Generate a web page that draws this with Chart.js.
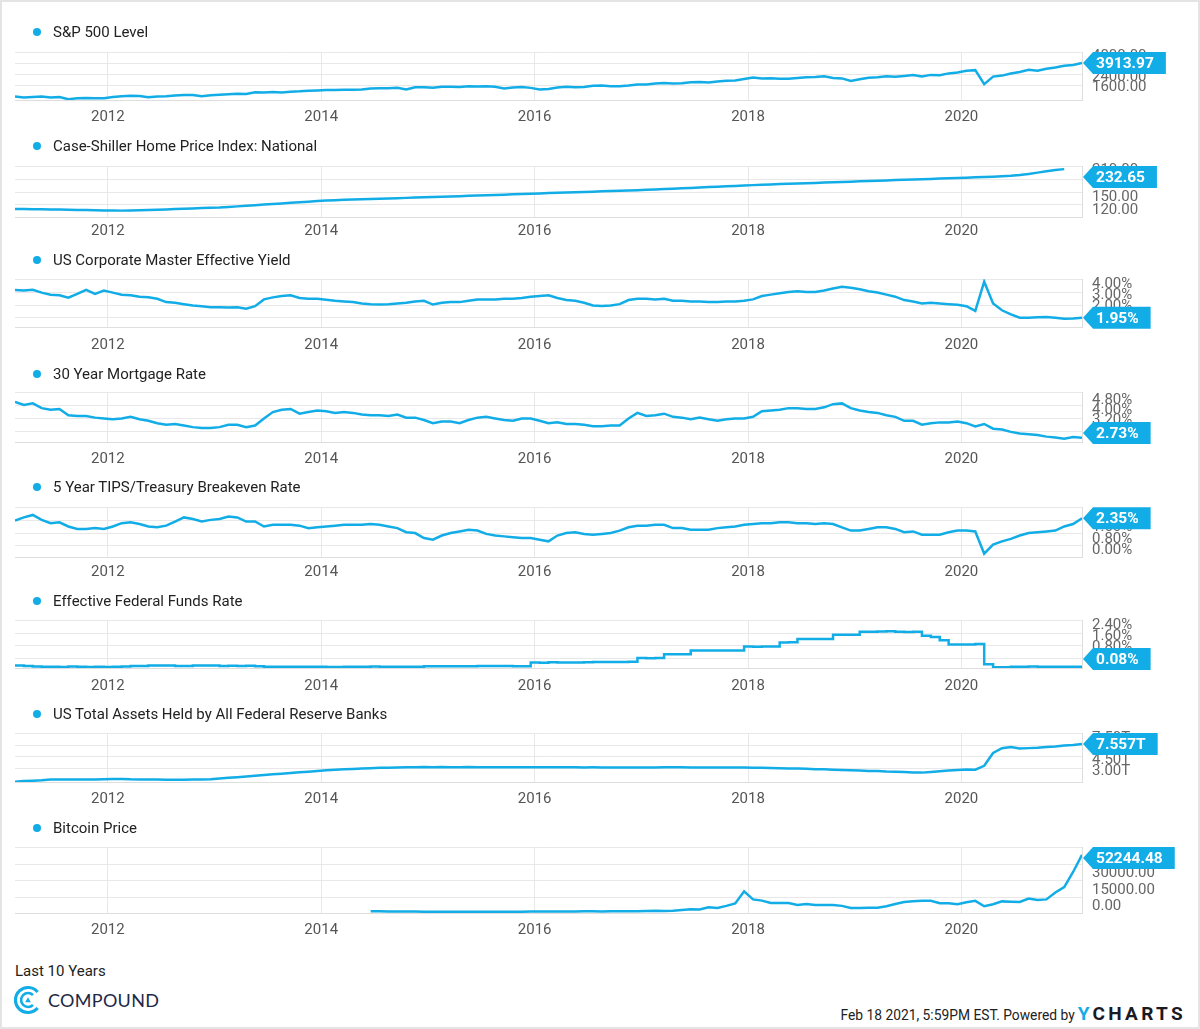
<!DOCTYPE html>
<html lang="en">
<head>
  <meta charset="UTF-8" />
  <title>Last 10 Years - Compound</title>
  <script src="https://cdn.jsdelivr.net/npm/chart.js@4.4.1/dist/chart.umd.min.js"></script>
  <style>
    html, body { margin: 0; padding: 0; background: #fff; }
    body { position: relative; width: 1200px; height: 1029px; overflow: hidden; font-family: Roboto, "Noto Sans", sans-serif; }
    .frame { position: absolute; left: 0; top: 0; width: 1200px; height: 1029px; box-sizing: border-box; border: 2px solid #e4e4e4; pointer-events: none; }
    .legend { position: absolute; left: 33px; height: 20px; line-height: 20px; font-size: 15px; color: #222; white-space: nowrap; }
    .legend .dot { display: inline-block; width: 8px; height: 8px; border-radius: 50%; background: #12ade6; margin-right: 12px; vertical-align: 1px; }
    canvas.panel { position: absolute; left: 0; }
    .period { position: absolute; left: 15px; top: 962px; font-size: 15px; color: #222; }
    .logo { position: absolute; left: 13px; top: 985px; }
    .brand { position: absolute; left: 48px; top: 989px; font-family: Lato, "Open Sans", sans-serif; font-size: 18px; letter-spacing: 0.3px; color: #1d2847; }
    .stamp { position: absolute; right: 14px; top: 1002px; font-size: 13.8px; color: #222; white-space: nowrap; }
    .stamp b { font-size: 19px; letter-spacing: 3.3px; color: #1a1a24; margin-left: 3px; }
    .stamp b span { color: #12ade6; }
  </style>
</head>
<body>
  <div class="period">Last 10 Years</div>
  <svg class="logo" width="30" height="30" viewBox="0 0 30 30">
    <path d="M24.6 23 A12.5 12.5 0 1 1 24.6 7" fill="none" stroke="#12ade6" stroke-width="3.2" />
    <path d="M20 20 A7 7 0 1 1 20 10" fill="none" stroke="#12ade6" stroke-width="2.6" />
    <path d="M15 12.3 L17.8 17.2 L12.2 17.2 Z" fill="#12ade6" />
  </svg>
  <div class="brand">COMPOUND</div>
  <div class="stamp">Feb 18 2021, 5:59PM EST. Powered by<b><span>Y</span>CHARTS</b></div>
  <div class="frame"></div>

  <script>
    // monthly points, 18th of each month, Feb 2011 .. Feb 2021
    const months = [];
    for (let i = 0; i <= 120; i++) months.push(2011 + (1.56 + i) / 12);

    const yearTicks = [2012, 2014, 2016, 2018, 2020];

    const spx = [
      1340, 1280, 1305, 1340, 1270, 1305, 1140, 1215, 1225, 1215, 1220,
      1310, 1360, 1405, 1385, 1295, 1345, 1370, 1418, 1460, 1455, 1360, 1445,
      1485, 1520, 1550, 1545, 1665, 1650, 1690, 1655, 1720, 1745, 1790, 1810,
      1840, 1840, 1870, 1865, 1880, 1955, 1980, 1980, 2010, 1885, 2050, 2060,
      2020, 2100, 2100, 2080, 2130, 2120, 2125, 2095, 1960, 2030, 2085, 2010,
      1880, 1920, 2045, 2095, 2050, 2070, 2165, 2185, 2140, 2140, 2185, 2260,
      2270, 2350, 2380, 2340, 2365, 2435, 2460, 2425, 2505, 2560, 2580, 2690,
      2800, 2730, 2750, 2710, 2715, 2775, 2815, 2850, 2905, 2770, 2735, 2545,
      2670, 2780, 2830, 2905, 2860, 2925, 2995, 2890, 3005, 2985, 3120, 3190,
      3330, 3370, 2300, 2875, 2950, 3115, 3225, 3390, 3320, 3480, 3570, 3710,
      3770, 3913.97
    ];
    const spxTicks = [1600, 2400, 3200, 4000];

    // Case-Shiller ends Dec 2020
    const homePrice = [
      139.0, 138.6, 138.3, 138.0, 137.7, 137.4, 137.0, 136.6, 136.2, 135.8, 135.5,
      135.2, 135.0, 135.2, 135.8, 136.5, 137.2, 137.9, 138.6, 139.4, 140.2, 141.0, 141.8,
      142.5, 143.7, 145.0, 146.4, 147.8, 149.2, 150.6, 152.0, 153.4, 154.8, 156.1, 157.5,
      159.0, 159.6, 160.3, 161.0, 161.7, 162.3, 163.0, 163.6, 164.3, 165.0, 165.7, 166.3,
      167.0, 167.7, 168.4, 169.1, 169.8, 170.5, 171.2, 171.9, 172.6, 173.3, 174.0, 174.7,
      175.5, 176.2, 176.9, 177.6, 178.3, 179.0, 179.7, 180.4, 181.1, 181.8, 182.5, 183.2,
      184.0, 184.9, 185.8, 186.7, 187.6, 188.5, 189.4, 190.4, 191.3, 192.2, 193.1, 194.0,
      195.0, 195.8, 196.6, 197.4, 198.1, 198.8, 199.5, 200.2, 200.9, 201.7, 202.5, 203.2,
      204.0, 204.7, 205.4, 206.1, 206.8, 207.5, 208.2, 208.9, 209.6, 210.3, 211.0, 211.8,
      212.5, 213.3, 214.1, 214.9, 215.7, 216.8, 218.6, 221.3, 224.4, 227.8, 230.8, 232.65
    ];
    const homeTicks = [120, 150, 180, 210];

    const corpYield = [
      4.0, 3.95, 4.0, 3.8, 3.65, 3.6, 3.42, 3.7, 4.0, 3.7, 3.95,
      3.8, 3.65, 3.6, 3.5, 3.45, 3.35, 3.1, 3.05, 2.95, 2.85, 2.8, 2.72,
      2.72, 2.7, 2.72, 2.62, 2.8, 3.3, 3.45, 3.55, 3.6, 3.4, 3.35, 3.35,
      3.27, 3.2, 3.15, 3.1, 3.0, 2.95, 2.92, 2.95, 3.0, 3.05, 3.15, 3.2,
      2.92, 3.05, 3.1, 3.1, 3.2, 3.3, 3.3, 3.3, 3.35, 3.35, 3.4, 3.5,
      3.55, 3.6, 3.4, 3.25, 3.2, 3.05, 2.85, 2.82, 2.85, 2.95, 3.25, 3.35,
      3.35, 3.3, 3.35, 3.2, 3.2, 3.15, 3.15, 3.1, 3.1, 3.15, 3.15, 3.2,
      3.3, 3.55, 3.65, 3.75, 3.85, 3.9, 3.85, 3.85, 3.95, 4.1, 4.23, 4.15,
      4.05, 3.9, 3.8, 3.65, 3.5, 3.25, 3.15, 3.0, 3.05, 3.0, 2.95, 2.9,
      2.8, 2.45, 4.6, 3.0, 2.5, 2.2, 1.95, 1.95, 1.98, 2.0, 1.95, 1.88,
      1.9, 1.95
    ];
    const corpTicks = [2, 3, 4];

    const mortgage = [
      5.0, 4.8, 4.9, 4.6, 4.5, 4.55, 4.15, 4.1, 4.1, 4.0, 3.95,
      3.9, 3.95, 4.05, 3.9, 3.8, 3.65, 3.55, 3.6, 3.5, 3.4, 3.35, 3.35,
      3.4, 3.55, 3.55, 3.4, 3.5, 3.95, 4.35, 4.5, 4.55, 4.25, 4.35, 4.45,
      4.4, 4.3, 4.35, 4.3, 4.2, 4.15, 4.15, 4.1, 4.2, 4.0, 4.0, 3.85,
      3.65, 3.75, 3.75, 3.65, 3.85, 4.0, 4.05, 3.95, 3.85, 3.8, 3.95, 3.95,
      3.8, 3.65, 3.7, 3.6, 3.6, 3.55, 3.45, 3.45, 3.5, 3.5, 3.95, 4.3,
      4.1, 4.15, 4.25, 4.05, 4.0, 3.9, 4.0, 3.9, 3.8, 3.9, 3.95, 3.95,
      4.05, 4.4, 4.45, 4.5, 4.6, 4.6, 4.55, 4.55, 4.65, 4.85, 4.9, 4.6,
      4.45, 4.35, 4.3, 4.15, 4.05, 3.8, 3.8, 3.55, 3.65, 3.7, 3.7, 3.75,
      3.65, 3.45, 3.6, 3.3, 3.25, 3.1, 3.0, 2.95, 2.9, 2.8, 2.75, 2.67,
      2.77, 2.73
    ];
    const mortgageTicks = [3.2, 4.0, 4.8];

    const breakeven = [
      2.2, 2.4, 2.55, 2.25, 2.05, 2.1, 1.85, 1.7, 1.7, 1.75, 1.7,
      1.85, 2.05, 2.1, 2.0, 1.85, 1.8, 1.9, 2.15, 2.4, 2.3, 2.15, 2.25,
      2.3, 2.45, 2.4, 2.15, 2.15, 1.85, 1.95, 1.95, 1.95, 1.9, 1.75, 1.8,
      1.85, 1.9, 1.95, 1.95, 1.95, 2.0, 1.95, 1.85, 1.75, 1.5, 1.45, 1.15,
      1.05, 1.3, 1.45, 1.55, 1.65, 1.6, 1.4, 1.3, 1.25, 1.2, 1.15, 1.15,
      1.05, 0.95, 1.3, 1.45, 1.5, 1.4, 1.35, 1.4, 1.45, 1.6, 1.8, 1.9,
      1.9, 1.95, 1.95, 1.75, 1.75, 1.65, 1.65, 1.65, 1.75, 1.8, 1.85, 1.95,
      2.0, 2.05, 2.05, 2.1, 2.1, 2.05, 2.05, 2.0, 2.05, 2.0, 1.8, 1.6,
      1.6, 1.7, 1.8, 1.8, 1.7, 1.5, 1.55, 1.35, 1.35, 1.35, 1.5, 1.6,
      1.6, 1.55, 0.2, 0.75, 0.95, 1.1, 1.3, 1.45, 1.5, 1.55, 1.6, 1.85,
      2.0, 2.35
    ];
    const breakevenTicks = [0, 0.8, 1.6, 2.4];

    const fedFunds = [
      0.16, 0.14, 0.10, 0.09, 0.09, 0.07, 0.10, 0.08, 0.07, 0.08, 0.07,
      0.08, 0.10, 0.13, 0.14, 0.16, 0.16, 0.16, 0.13, 0.14, 0.16, 0.16, 0.16,
      0.14, 0.15, 0.14, 0.15, 0.11, 0.09, 0.09, 0.08, 0.08, 0.09, 0.08, 0.09,
      0.07, 0.07, 0.08, 0.09, 0.09, 0.10, 0.09, 0.09, 0.09, 0.09, 0.09, 0.12,
      0.11, 0.11, 0.11, 0.12, 0.12, 0.13, 0.13, 0.14, 0.14, 0.12, 0.12, 0.36,
      0.34, 0.38, 0.36, 0.37, 0.37, 0.38, 0.39, 0.40, 0.40, 0.40, 0.41, 0.66,
      0.65, 0.66, 0.91, 0.90, 0.91, 1.16, 1.15, 1.16, 1.15, 1.15, 1.16, 1.42,
      1.41, 1.42, 1.42, 1.69, 1.70, 1.91, 1.91, 1.91, 1.92, 2.19, 2.20, 2.20,
      2.40, 2.40, 2.41, 2.42, 2.39, 2.38, 2.40, 2.13, 2.04, 1.83, 1.55, 1.55,
      1.55, 1.58, 0.25, 0.05, 0.05, 0.08, 0.09, 0.10, 0.09, 0.09, 0.09, 0.09,
      0.09, 0.08
    ];
    const fedFundsTicks = [0, 0.8, 1.6, 2.4];

    // trillions of USD
    const fedAssets = [
      2.55, 2.65, 2.70, 2.76, 2.85, 2.87, 2.87, 2.86, 2.87, 2.85, 2.90,
      2.93, 2.93, 2.88, 2.86, 2.85, 2.87, 2.83, 2.82, 2.82, 2.85, 2.85, 2.90,
      3.00, 3.08, 3.17, 3.25, 3.35, 3.45, 3.54, 3.62, 3.71, 3.82, 3.90, 4.00,
      4.07, 4.14, 4.20, 4.26, 4.31, 4.36, 4.40, 4.42, 4.45, 4.47, 4.48, 4.50,
      4.49, 4.50, 4.48, 4.48, 4.50, 4.49, 4.49, 4.49, 4.48, 4.48, 4.49, 4.49,
      4.49, 4.49, 4.49, 4.49, 4.47, 4.46, 4.47, 4.46, 4.45, 4.45, 4.45, 4.45,
      4.45, 4.46, 4.47, 4.47, 4.47, 4.46, 4.46, 4.46, 4.46, 4.45, 4.44, 4.44,
      4.42, 4.41, 4.39, 4.35, 4.33, 4.30, 4.27, 4.22, 4.20, 4.15, 4.11, 4.08,
      4.05, 4.00, 3.97, 3.92, 3.90, 3.85, 3.80, 3.77, 3.86, 3.95, 4.06, 4.13,
      4.17, 4.16, 4.67, 6.37, 7.00, 7.17, 6.95, 7.01, 7.06, 7.17, 7.24, 7.36,
      7.41, 7.557
    ];
    const fedAssetsTicks = [3, 4.5, 6, 7.5];

    // starts Jun 2014 (month index 40)
    const bitcoinStart = 40;
    const bitcoin = [
      600, 620, 490, 400, 385, 380, 320,
      210, 240, 260, 225, 235, 250, 280, 230, 230, 265, 330, 460,
      380, 420, 415, 430, 450, 750, 670, 575, 610, 635, 740, 790,
      900, 1050, 1000, 1200, 1800, 2500, 2250, 4300, 3600, 5600, 7800, 18900,
      11500, 10400, 8200, 8200, 8200, 6500, 7400, 6300, 6350, 6500, 5600, 3600,
      3650, 3900, 4000, 5250, 7300, 9100, 9800, 10300, 10200, 7950, 8000, 7100,
      8900, 10200, 5300, 7100, 9700, 9400, 9150, 12300, 10900, 11500, 17800, 22800,
      36500, 52244.48
    ];
    const bitcoinTicks = [0, 15000, 30000, 45000];

    const CYAN = '#12ade6';
    const num = v => v.toFixed(2);
    const pct = v => v.toFixed(2) + '%';

    const panels = [
      { title: 'S&P 500 Level', values: spx, from: 0, ticks: spxTicks, fmt: num, last: num,
        top: 52, h: 48, legendY: 32, labelY: 117, min: 1080, max: 4760, lmin: 636, lmax: 4368, grid: [0, 11, 22, 33] },
      { title: 'Case-Shiller Home Price Index: National', values: homePrice, from: 0, ticks: homeTicks, fmt: num, last: num,
        top: 166, h: 51, legendY: 146, labelY: 231, min: 120, max: 240, lmin: 104.9, lmax: 219.9, grid: [0, 13, 26, 38] },
      { title: 'US Corporate Master Effective Yield', values: corpYield, from: 0, ticks: corpTicks, fmt: pct, last: pct,
        top: 279, h: 48, legendY: 260, labelY: 345, min: 1.27, max: 4.8, lmin: 0.1, lmax: 4.53, grid: [0, 13, 26, 38] },
      { title: '30 Year Mortgage Rate', values: mortgage, from: 0, ticks: mortgageTicks, fmt: pct, last: pct,
        top: 392, h: 50, legendY: 374, labelY: 459, min: 2.46, max: 5.62, lmin: 1.42, lmax: 5.42, grid: [0, 13, 26, 39] },
      { title: '5 Year TIPS/Treasury Breakeven Rate', values: breakeven, from: 0, ticks: breakevenTicks, fmt: pct, last: pct,
        top: 507, h: 50, legendY: 487, labelY: 572, min: 0, max: 3.03, lmin: -0.45, lmax: 3.01, grid: [0, 13, 26, 38] },
      { title: 'Effective Federal Funds Rate', values: fedFunds, from: 0, ticks: fedFundsTicks, fmt: pct, last: pct, stepped: true,
        top: 620, h: 48, legendY: 601, labelY: 686, min: 0, max: 3.17, lmin: -0.75, lmax: 2.76, grid: [0, 13, 25, 38] },
      { title: 'US Total Assets Held by All Federal Reserve Banks', values: fedAssets, from: 0, ticks: fedAssetsTicks,
        fmt: v => v.toFixed(2) + 'T', last: v => v.toFixed(3) + 'T',
        top: 733, h: 49, legendY: 714, labelY: 799, min: 2.53, max: 9.01, lmin: 1.55, lmax: 8.24, grid: [0, 12, 23, 35] },
      { title: 'Bitcoin Price', values: bitcoin, from: bitcoinStart, ticks: bitcoinTicks, fmt: num, last: num,
        top: 847, h: 66, legendY: 828, labelY: 930, min: -900, max: 59300, lmin: -6055, lmax: 54495, grid: [0, 17, 33, 50] }
    ];

    Chart.defaults.font.family = 'Roboto, "Noto Sans", sans-serif';

    function calloutFor(p) {
      return {
        id: 'callout',
        afterDraw(chart) {
          const pts = chart.data.datasets[0].data;
          const last = pts[pts.length - 1];
          const a = chart.chartArea;
          const ctx = chart.ctx;
          const y = chart.scales.y.getPixelForValue(last.y);
          const cy = Math.min(Math.max(y, a.top + 11), a.bottom - 9);
          const text = p.last(last.y);
          ctx.save();
          ctx.font = 'bold 15.5px Roboto';
          const w = ctx.measureText(text).width + 15;
          const tip = a.right + 1, bx = tip + 10;
          ctx.fillStyle = CYAN;
          ctx.beginPath();
          ctx.moveTo(tip, cy);
          ctx.lineTo(bx, cy - 11);
          ctx.lineTo(bx + w, cy - 11);
          ctx.lineTo(bx + w, cy + 11);
          ctx.lineTo(bx, cy + 11);
          ctx.closePath();
          ctx.fill();
          ctx.fillStyle = '#fff';
          ctx.textAlign = 'left';
          ctx.textBaseline = 'middle';
          ctx.fillText(text, bx + 3, cy + 1);
          ctx.restore();
        }
      };
    }

    panels.forEach(p => {
      const leg = document.createElement('div');
      leg.className = 'legend';
      leg.style.top = (p.legendY - 10) + 'px';
      leg.innerHTML = '<span class="dot"></span>';
      leg.appendChild(document.createTextNode(p.title));
      document.body.appendChild(leg);

      // room above the plot: the right axis asks for about 19px for its top label
      const padTop = 24, xh = 34;
      const canvas = document.createElement('canvas');
      canvas.className = 'panel';
      canvas.width = 1200;
      canvas.height = padTop + p.h + xh;
      canvas.style.top = (p.top - padTop) + 'px';
      document.body.insertBefore(canvas, document.querySelector('.legend'));

      new Chart(canvas.getContext('2d'), {
        type: 'line',
        data: {
          datasets: [{
            data: p.values.map((v, i) => ({ x: months[p.from + i], y: v })),
            borderColor: CYAN,
            borderWidth: 2.5,
            pointRadius: 0,
            tension: 0,
            stepped: p.stepped || false,
            yAxisID: 'y'
          }]
        },
        options: {
          responsive: false,
          animation: false,
          layout: { padding: { left: 15, top: padTop, right: 0, bottom: 0 } },
          plugins: { legend: { display: false }, tooltip: { enabled: false } },
          scales: {
            x: {
              type: 'linear',
              min: months[0],
              max: months[months.length - 1],
              afterBuildTicks: s => { s.ticks = yearTicks.map(v => ({ value: v })); },
              ticks: { callback: v => String(v), font: { size: 15 }, color: '#555', padding: p.labelY - (p.top + p.h) - 9, maxRotation: 0, autoSkip: false },
              grid: { color: '#e8e8e8', drawTicks: false },
              border: { color: '#dedede' },
              afterFit: s => { s.height = xh; }
            },
            y: { type: 'linear', display: false, min: p.min, max: p.max },
            yl: {
              type: 'linear',
              position: 'right',
              min: p.lmin,
              max: p.lmax,
              afterBuildTicks: s => { s.ticks = p.ticks.map(v => ({ value: v })); },
              ticks: { callback: v => p.fmt(v), font: { size: 15 }, color: '#666', padding: 10, autoSkip: false },
              grid: { display: false, drawTicks: false },
              border: { display: true, color: '#dedede' },
              afterFit: s => { s.width = 118; }
            },
            g: {
              type: 'linear',
              position: 'left',
              min: 0,
              max: p.h,
              afterBuildTicks: s => { s.ticks = p.grid.map(d => ({ value: p.h - d })); },
              ticks: { display: false },
              grid: { color: '#e8e8e8', drawTicks: false },
              border: { display: false },
              afterFit: s => { s.width = 0; }
            }
          }
        },
        plugins: [calloutFor(p)]
      });
    });
  </script>
</body>
</html>
